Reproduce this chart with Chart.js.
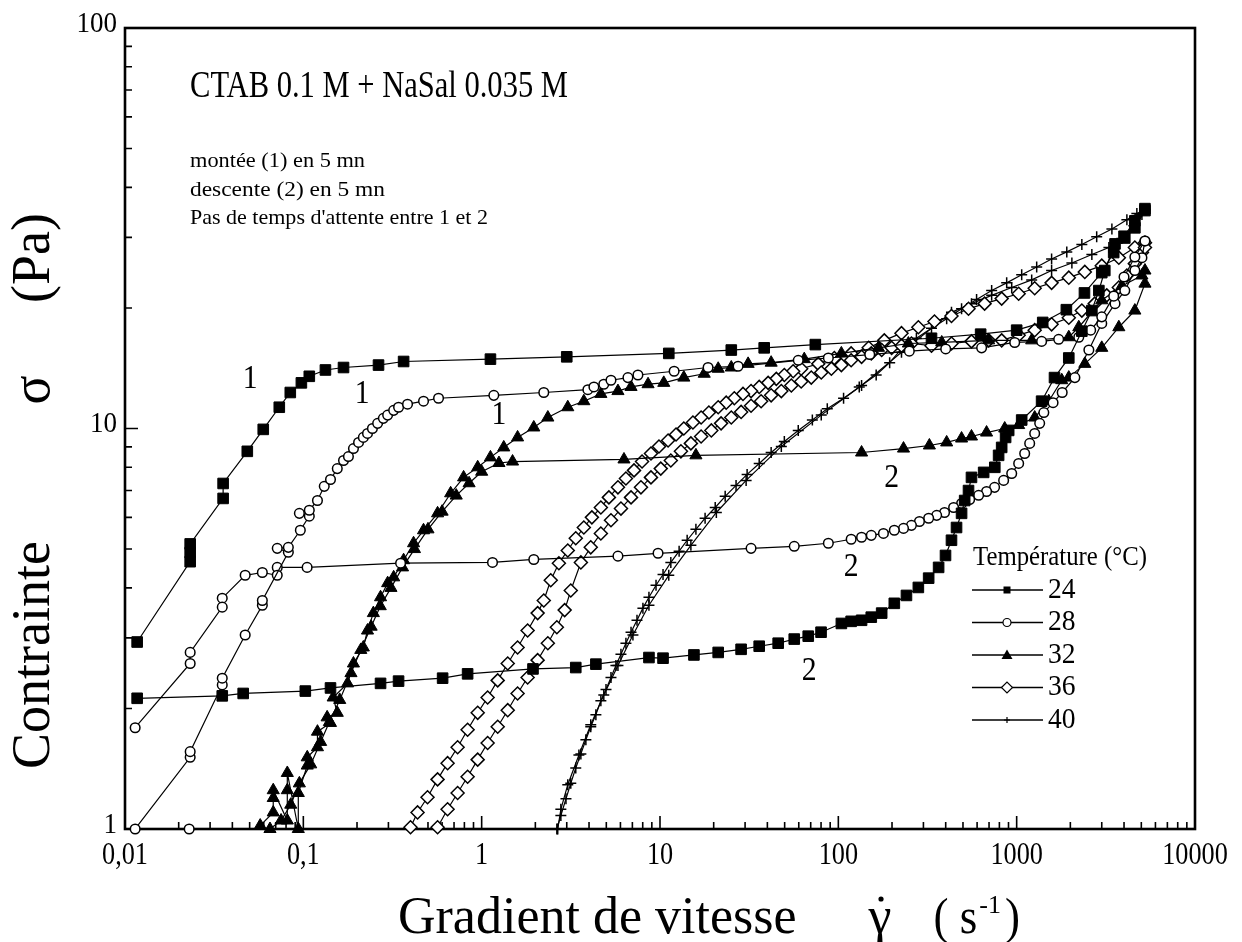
<!DOCTYPE html>
<html lang="fr">
<head>
<meta charset="UTF-8">
<title>CTAB 0.1 M + NaSal 0.035 M</title>
<script src="https://cdn.jsdelivr.net/npm/chart.js"></script>
<style>
  body { margin: 0; background: #fff; }
  #wrap { width: 1242px; height: 942px; }
</style>
</head>
<body>
<div id="wrap"><canvas id="chartCanvas" width="1242" height="942"></canvas></div>
<script>
// axis decades
const xTickValues = [0.01, 0.1, 1, 10, 100, 1000, 10000];
const xTickLabels = ['0,01', '0,1', '1', '10', '100', '1000', '10000'];
const yTickValues = [1, 10, 100];
const yTickLabels = ['1', '10', '100'];

const temperatures = ['24', '28', '32', '36', '40'];

// [shear rate (1/s), stress (Pa)] - montée (1) and descente (2)
const up24 = [[0.0117,2.93],[0.0232,4.65],[0.0232,4.9],[0.0232,5.15],[0.0355,6.69],[0.0355,7.29],[0.0485,8.77],[0.0596,9.95],[0.0733,11.3],[0.0845,12.3],[0.0975,13.0],[0.108,13.5],[0.133,14.0],[0.168,14.2],[0.264,14.4],[0.365,14.7],[1.12,14.9],[3.0,15.1],[11.2,15.4],[25.1,15.7],[38.4,15.9],[74.3,16.2],[333,16.8],[628,17.2],[1000,17.6],[1400,18.4],[1900,19.8],[2400,21.8],[3000,24.5],[3500,27.5],[4000,30.2],[4600,33.0],[5240,35.4]];
const down24 = [[5240,35.0],[4600,31.7],[4040,29.9],[3560,28.9],[3120,24.8],[2890,22.1],[2640,19.7],[2320,17.5],[1960,15.0],[1630,13.4],[1380,11.7],[1067,10.5],[902,9.89],[867,9.5],[824,8.97],[792,8.57],[754,8.0],[653,7.77],[558,7.55],[537,7.0],[511,6.61],[491,6.14],[460,5.66],[431,5.26],[399,4.82],[365,4.5],[321,4.23],[281,4.01],[241,3.83],[206,3.66],[175,3.46],[153,3.38],[135,3.32],[118,3.3],[104,3.26],[80,3.1],[67.8,3.03],[56.6,2.98],[46,2.91],[36,2.86],[28.5,2.81],[21.2,2.76],[15.5,2.72],[10.4,2.67],[8.67,2.68],[4.37,2.58],[3.37,2.53],[1.94,2.51],[0.834,2.44],[0.604,2.38],[0.342,2.34],[0.271,2.31],[0.142,2.25],[0.1026,2.21],[0.046,2.18],[0.0351,2.15],[0.0117,2.12]];

const up28 = [[0.0229,1.0],[0.0114,1.0],[0.0232,1.51],[0.0232,1.56],[0.0351,2.29],[0.0351,2.38],[0.0472,3.05],[0.0589,3.62],[0.0589,3.72],[0.0824,4.91],[0.0714,5.02],[0.0824,5.05],[0.0962,5.57],[0.108,6.04],[0.095,6.14],[0.108,6.25],[0.12,6.61],[0.131,7.17],[0.142,7.46],[0.155,7.94],[0.168,8.32],[0.179,8.51],[0.191,8.91],[0.204,9.23],[0.217,9.5],[0.229,9.72],[0.244,10.0],[0.261,10.3],[0.281,10.6],[0.297,10.8],[0.321,11.1],[0.342,11.3],[0.384,11.5],[0.472,11.7],[0.573,11.9],[1.17,12.1],[2.23,12.3],[3.94,12.5],[4.26,12.7],[4.84,12.9],[5.31,13.2],[6.61,13.4],[7.52,13.6],[12.0,13.9],[18.6,14.2],[27.4,14.3],[59.6,14.8],[87.9,15.0],[150,15.3],[250,15.6],[400,15.8],[636,15.9],[975,16.4],[1380,16.5],[1720,16.7],[2230,16.9],[2600,17.6],[3000,19.0],[3500,21.4],[4000,23.9],[4600,26.8],[5240,29.4]];
const down28 = [[5240,29.4],[5040,26.7],[4600,24.8],[4040,22.1],[3560,20.5],[3000,18.3],[2540,15.7],[2120,13.4],[1800,12.3],[1600,11.6],[1420,10.96],[1346,10.3],[1262,9.72],[1183,9.18],[1109,8.66],[1026,8.18],[938,7.72],[845,7.42],[752,7.13],[678,6.96],[612,6.81],[545,6.65],[491,6.5],[443,6.35],[394,6.17],[356,6.07],[321,5.97],[285,5.86],[257,5.73],[232,5.63],[206,5.57],[179,5.47],[153,5.41],[135,5.35],[118,5.29],[87.9,5.17],[56.6,5.08],[32.4,5.02],[9.75,4.88],[5.81,4.8],[1.96,4.71],[1.15,4.63],[0.351,4.61],[0.105,4.5],[0.0714,4.5],[0.0714,4.3],[0.0589,4.37],[0.0472,4.3],[0.0351,3.77],[0.0351,3.58],[0.0232,2.76],[0.0232,2.59],[0.0114,1.79]];

const up32 = [[0.0573,1.02],[0.0678,1.1],[0.0678,1.195],[0.0678,1.25],[0.0813,1.05],[0.0813,1.25],[0.0813,1.38],[0.0937,1.0],[0.0937,1.23],[0.1052,1.44],[0.1052,1.51],[0.12,1.6],[0.12,1.75],[0.142,1.84],[0.136,1.9],[0.155,1.95],[0.147,2.13],[0.177,2.31],[0.191,2.59],[0.217,2.84],[0.229,3.13],[0.247,3.46],[0.271,3.79],[0.297,4.11],[0.321,4.25],[0.365,4.69],[0.415,5.17],[0.472,5.57],[0.566,6.14],[0.67,6.89],[0.792,7.55],[0.95,8.0],[1.12,8.47],[1.33,8.97],[1.59,9.5],[1.96,10.06],[2.35,10.65],[3.04,11.3],[3.74,11.7],[4.66,12.2],[5.81,12.4],[6.88,12.7],[8.57,12.9],[10.5,13.0],[13.6,13.4],[17.7,13.7],[21.2,14.1],[25.1,14.2],[31.2,14.5],[42,14.6],[64.4,14.9],[104,15.4],[168,15.9],[247,16.3],[380,16.4],[697,16.6],[1214,16.6],[1960,16.9],[2230,17.9],[3000,20.9],[3890,22.7],[5040,24.1],[5240,24.8]];
const down32 = [[5240,23.0],[4600,19.7],[3740,17.9],[3000,15.9],[2410,14.5],[1960,13.4],[1790,13.2],[1513,11.7],[1262,10.65],[1026,10.2],[857,10.0],[678,9.77],[558,9.55],[491,9.44],[405,9.23],[324,9.07],[232,8.91],[135,8.71],[15.9,8.57],[6.28,8.37],[1.49,8.27],[1.25,8.2],[1.0,7.8],[0.85,7.3],[0.72,6.8],[0.6,6.2],[0.5,5.6],[0.42,5.0],[0.36,4.5],[0.31,4.0],[0.27,3.6],[0.24,3.2],[0.21,2.8],[0.185,2.45],[0.16,2.1],[0.14,1.85],[0.125,1.65],[0.11,1.45],[0.095,1.3],[0.085,1.15],[0.075,1.05],[0.065,1.0]];

const up36 = [[0.566,1.01],[0.644,1.12],[0.733,1.23],[0.834,1.35],[0.95,1.49],[1.08,1.64],[1.23,1.8],[1.4,1.98],[1.59,2.18],[1.81,2.39],[2.06,2.64],[2.35,2.91],[2.64,3.19],[2.92,3.52],[3.16,3.94],[3.6,4.63],[4.09,5.05],[4.66,5.47],[5.31,5.9],[6.04,6.31],[6.88,6.73],[7.82,7.13],[8.9,7.55],[10.1,7.94],[11.5,8.32],[13.1,8.77],[14.9,9.18],[17.0,9.55],[19.4,9.89],[22.0,10.3],[25.1,10.65],[28.5,11.0],[32.4,11.4],[36.9,11.7],[42.0,12.1],[47.9,12.4],[54.5,12.8],[61.9,13.1],[70.5,13.4],[80.2,13.8],[91.4,14.1],[104,14.4],[118,14.8],[135,15.1],[153,15.4],[175,15.7],[199,15.9],[226,16.1],[257,16.3],[333,16.1],[431,16.3],[558,16.5],[697,16.6],[824,16.6],[1026,17.1],[1262,17.6],[1570,18.2],[1960,18.9],[2320,19.7],[2740,20.5],[3200,21.5],[3740,22.5],[4150,24.1],[4600,25.8],[5040,27.5],[5240,28.3]];
const down36 = [[5240,29.1],[4600,28.3],[3740,26.7],[3000,25.5],[2410,24.6],[1960,23.8],[1570,23.1],[1262,22.4],[1026,21.7],[824,21.1],[661,20.5],[537,19.9],[431,19.1],[346,18.5],[281,17.9],[226,17.3],[181,16.6],[148,15.9],[118,15.4],[95,15.0],[77.2,14.5],[61.9,14.1],[55.8,13.9],[49.8,13.6],[44.9,13.3],[40.4,13.0],[36.0,12.7],[32.4,12.4],[29.2,12.2],[26.1,11.9],[23.5,11.6],[21.2,11.3],[18.8,10.96],[17.0,10.65],[15.3,10.35],[13.6,10.0],[12.3,9.66],[11.1,9.33],[9.87,9.02],[8.9,8.66],[7.93,8.27],[7.15,7.86],[6.44,7.5],[5.81,7.13],[5.17,6.73],[4.66,6.35],[4.15,6.0],[3.74,5.66],[3.37,5.32],[3.04,4.96],[2.71,4.61],[2.44,4.18],[2.23,3.72],[2.06,3.46],[1.81,3.13],[1.59,2.84],[1.4,2.59],[1.23,2.35],[1.08,2.13],[0.95,1.95],[0.834,1.77],[0.733,1.6],[0.644,1.46],[0.566,1.33],[0.497,1.2],[0.437,1.1],[0.399,1.01]];

const up40 = [[2.64,1.0],[2.78,1.08],[2.97,1.19],[3.16,1.3],[3.37,1.42],[3.6,1.54],[3.84,1.67],[4.09,1.8],[4.37,1.93],[4.66,2.09],[4.98,2.23],[5.31,2.39],[5.66,2.56],[6.04,2.73],[6.44,2.91],[6.88,3.1],[7.43,3.32],[8.02,3.56],[8.67,3.79],[9.5,4.06],[10.4,4.32],[11.5,4.63],[12.8,4.94],[14.2,5.26],[15.9,5.6],[17.9,5.97],[20.4,6.35],[23.2,6.77],[26.7,7.21],[30.8,7.68],[36.0,8.18],[42.0,8.71],[49.8,9.28],[59.6,9.89],[71.5,10.5],[86.7,11.2],[107,11.9],[131,12.7],[163,13.6],[194,14.6],[226,15.8],[274,16.8],[333,17.8],[405,18.8],[491,19.9],[596,21.0],[724,22.1],[879,23.1],[1067,24.2],[1295,25.3],[1570,26.5],[1910,27.6],[2320,28.8],[2810,30.1],[3420,31.5],[4150,33.2],[4720,34.4],[5240,35.2]];
const down40 = [[5240,35.2],[5040,34.2],[4540,32.1],[3890,29.8],[3290,28.3],[2640,27.2],[2040,25.9],[1570,24.8],[1214,23.5],[938,22.5],[724,21.5],[558,20.5],[431,19.5],[226,15.5],[135,12.8],[80.2,10.8],[47.9,9.02],[30.4,7.42],[20.7,6.17],[14.9,5.11],[11.2,4.3],[8.67,3.62],[7.05,3.05],[5.81,2.56],[4.84,2.16],[4.09,1.82],[3.51,1.53],[3.04,1.29],[2.78,1.12],[2.67,1.0]];

// curve labels, placed in data coordinates
const curveLabels = [
  { text: '1', x: 0.0504, y: 13.3 },
  { text: '1', x: 0.214, y: 12.2 },
  { text: '1', x: 1.25, y: 10.8 },
  { text: '2', x: 199, y: 7.5 },
  { text: '2', x: 118, y: 4.5 },
  { text: '2', x: 68.7, y: 2.48 }
];

const SERIF = '"Liberation Serif", "Times New Roman", serif';

const markers = {
  '24': { shape: 'rect', r: 7.5, fill: '#000', bw: 1 },
  '28': { shape: 'circle', r: 4.8, fill: '#fff', bw: 1.5 },
  '32': { shape: 'triangle', r: 7, fill: '#000', bw: 1 },
  '36': { shape: 'rectRot', r: 6.5, fill: '#fff', bw: 1.5 },
  '40': { shape: 'cross', r: 5.5, fill: '#000', bw: 1.5 }
};

function series(temp, branch, pts) {
  const m = markers[temp];
  return {
    label: temp + ' ' + branch,
    data: pts.map(([x, y]) => ({ x, y })),
    showLine: true,
    borderColor: '#000',
    borderWidth: 1.2,
    pointStyle: m.shape,
    pointRadius: m.r,
    pointBackgroundColor: m.fill,
    pointBorderColor: '#000',
    pointBorderWidth: m.bw,
    clip: false
  };
}

function drawText(ctx, text, x, y, size, opts = {}) {
  ctx.save();
  ctx.font = size + 'px ' + SERIF;
  ctx.fillStyle = '#000';
  ctx.textBaseline = opts.baseline || 'alphabetic';
  const w = ctx.measureText(text).width;
  const sx = opts.width ? opts.width / w : (opts.squeeze || 1);
  ctx.translate(x, y);
  if (opts.rotate) ctx.rotate(opts.rotate);
  ctx.scale(sx, 1);
  ctx.textAlign = opts.align || 'left';
  ctx.fillText(text, 0, 0);
  ctx.restore();
  return w * sx;
}

function minorTicks(min, max) {
  const out = [];
  const e0 = Math.floor(Math.log10(min) + 1e-9);
  const e1 = Math.ceil(Math.log10(max) - 1e-9);
  for (let e = e0; e <= e1; e++) {
    for (let k = 1; k <= 9; k++) {
      const v = k * Math.pow(10, e);
      if (v < min * 0.999 || v > max * 1.001) continue;
      out.push({ v, major: k === 1 });
    }
  }
  return out;
}

function legendMarker(ctx, shape, x, y) {
  ctx.save();
  ctx.lineWidth = 1.2;
  ctx.strokeStyle = '#000';
  ctx.fillStyle = '#000';
  ctx.beginPath();
  if (shape === 'rect') {
    ctx.fillRect(x - 3.5, y - 3.5, 7, 7);
  } else if (shape === 'circle') {
    ctx.fillStyle = '#fff';
    ctx.arc(x, y, 4, 0, Math.PI * 2);
    ctx.fill(); ctx.stroke();
  } else if (shape === 'triangle') {
    ctx.moveTo(x, y - 5.5); ctx.lineTo(x + 5.5, y + 4); ctx.lineTo(x - 5.5, y + 4);
    ctx.closePath(); ctx.fill();
  } else if (shape === 'rectRot') {
    ctx.fillStyle = '#fff';
    ctx.moveTo(x - 5.5, y); ctx.lineTo(x, y - 5.5); ctx.lineTo(x + 5.5, y); ctx.lineTo(x, y + 5.5);
    ctx.closePath(); ctx.fill(); ctx.stroke();
  } else {
    ctx.moveTo(x - 3, y); ctx.lineTo(x + 3, y);
    ctx.moveTo(x, y - 3); ctx.lineTo(x, y + 3);
    ctx.stroke();
  }
  ctx.restore();
}

// frame, inward ticks and decade labels
const framePlugin = {
  id: 'frame',
  beforeDatasetsDraw(chart) {
    const { ctx, chartArea: a } = chart;
    const xs = chart.scales.x, ys = chart.scales.y;
    ctx.save();
    ctx.strokeStyle = '#000';
    ctx.lineWidth = 1.6;
    ctx.beginPath();
    minorTicks(xs.min, xs.max).forEach(t => {
      const px = xs.getPixelForValue(t.v);
      ctx.moveTo(px, a.bottom);
      ctx.lineTo(px, a.bottom - (t.major ? 13 : 7));
    });
    minorTicks(ys.min, ys.max).forEach(t => {
      const py = ys.getPixelForValue(t.v);
      ctx.moveTo(a.left, py);
      ctx.lineTo(a.left + (t.major ? 13 : 7), py);
    });
    ctx.stroke();
    ctx.lineWidth = 2.6;
    ctx.strokeRect(a.left, a.top, a.right - a.left, a.bottom - a.top);
    ctx.restore();

    xTickValues.forEach((v, i) => {
      drawText(ctx, xTickLabels[i], xs.getPixelForValue(v), a.bottom + 27, 32,
        { align: 'center', baseline: 'middle', squeeze: 0.82 });
    });
    yTickValues.forEach((v, i) => {
      drawText(ctx, yTickLabels[i], a.left - 8, ys.getPixelForValue(v) - 4, 30,
        { align: 'right', baseline: 'middle', squeeze: 0.9 });
    });
  },
  afterDatasetsDraw(chart) {
    const { ctx } = chart;
    const xs = chart.scales.x, ys = chart.scales.y;

    curveLabels.forEach(l => {
      drawText(ctx, l.text, xs.getPixelForValue(l.x), ys.getPixelForValue(l.y), 33,
        { align: 'center', baseline: 'middle', squeeze: 0.9 });
    });

    drawText(ctx, 'CTAB 0.1 M + NaSal 0.035 M', 190, 97, 38, { width: 378 });
    drawText(ctx, 'montée (1) en 5 mn', 190, 167, 22, { width: 175 });
    drawText(ctx, 'descente (2) en 5 mn', 190, 196, 22, { width: 195 });
    drawText(ctx, "Pas de temps d'attente entre 1 et 2", 190, 224, 22, { width: 298 });

    // legend
    drawText(ctx, 'Température (°C)', 973, 565, 27, { width: 174 });
    temperatures.forEach((t, i) => {
      const y = 590 + i * 32.5;
      ctx.save();
      ctx.strokeStyle = '#000';
      ctx.lineWidth = 1.3;
      ctx.beginPath();
      ctx.moveTo(972, y); ctx.lineTo(1043, y);
      ctx.stroke();
      ctx.restore();
      legendMarker(ctx, markers[t].shape, 1007, y);
      drawText(ctx, t, 1048, y, 29, { baseline: 'middle', squeeze: 0.95 });
    });

    // axis titles
    const yb = 933;
    let x = 398;
    x += drawText(ctx, 'Gradient de vitesse', x, yb, 52);
    x += 72;
    const gw = drawText(ctx, 'γ', x, yb, 52);
    ctx.beginPath();
    ctx.arc(x + gw / 2 + 1, yb - 34, 2.6, 0, Math.PI * 2);
    ctx.fill();
    x += gw + 42;
    x += drawText(ctx, '( s', x, yb, 50, { squeeze: 0.9 });
    x += 2;
    x += drawText(ctx, '-1', x, yb - 20, 26);
    x += 4;
    drawText(ctx, ')', x, yb, 50, { squeeze: 0.9 });

    const rot = -Math.PI / 2;
    drawText(ctx, 'Contrainte', 35, 655, 54, { rotate: rot, align: 'center', baseline: 'middle' });
    drawText(ctx, 'σ', 35, 390, 54, { rotate: rot, align: 'center', baseline: 'middle' });
    drawText(ctx, '(Pa)', 35, 258, 54, { rotate: rot, align: 'center', baseline: 'middle' });
  }
};

new Chart(document.getElementById('chartCanvas'), {
  type: 'scatter',
  data: {
    datasets: [
      series('24', '1', up24), series('24', '2', down24),
      series('28', '1', up28), series('28', '2', down28),
      series('32', '1', up32), series('32', '2', down32),
      series('36', '1', up36), series('36', '2', down36),
      series('40', '1', up40), series('40', '2', down40)
    ]
  },
  options: {
    responsive: false,
    animation: false,
    devicePixelRatio: 1,
    layout: { padding: { top: 28, right: 47, left: 0, bottom: 0 } },
    plugins: { legend: { display: false }, tooltip: { enabled: false }, title: { display: false } },
    scales: {
      x: {
        type: 'logarithmic', min: 0.01, max: 10000,
        grid: { display: false }, border: { display: false },
        ticks: { display: false, autoSkip: false },
        afterFit: s => { s.height = 113; }
      },
      y: {
        type: 'logarithmic', min: 1, max: 100,
        grid: { display: false }, border: { display: false },
        ticks: { display: false, autoSkip: false },
        afterFit: s => { s.width = 125; }
      }
    }
  },
  plugins: [framePlugin]
});
</script>
</body>
</html>
